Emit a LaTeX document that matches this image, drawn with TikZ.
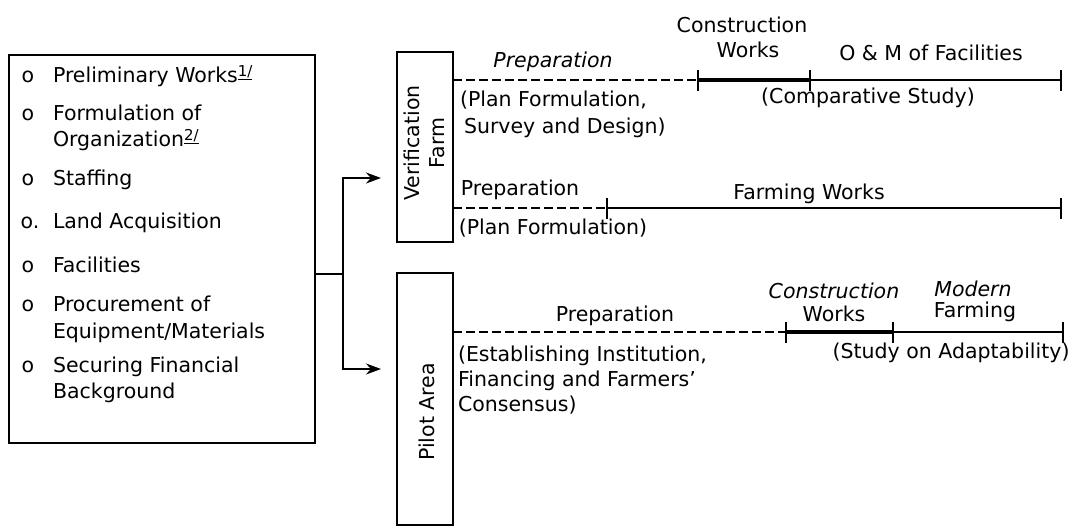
\documentclass[tikz,border=0pt]{standalone}
\usepackage{fontspec}
\setmainfont{DejaVu Sans}
\usetikzlibrary{arrows.meta}
\newcommand{\fnm}[1]{\raisebox{0.55ex}{\fontsize{15}{15}\selectfont\underline{#1}}}
\begin{document}
\begin{tikzpicture}[x=1pt,y=-1pt,
  every node/.style={font=\fontsize{20.5}{25}\selectfont, inner sep=0pt, outer sep=0pt},
  frame/.style={draw, line width=1.8pt},
  lnk/.style={line width=1.8pt, -{Stealth[length=15pt,width=11pt]}},
  plan/.style={line width=1.5pt, dash pattern=on 9pt off 4pt},
  work/.style={line width=4.5pt},
  run/.style={line width=1.5pt},
  tick/.style={line width=1.8pt},
  itm/.style={anchor=base west},
  bul/.style={anchor=base}]
\useasboundingbox (0,0) rectangle (1081,526);
% left box
\node[frame, minimum width=306pt, minimum height=388pt] (lbox) at (162,249) {};
\node[bul] (b1) at (28,83) {o};
\node[itm] (t1) at (53,83) {Preliminary Works\fnm{1/}};
\node[bul] (b2) at (28,121) {o};
\node[itm] (t2) at (53,121) {Formulation of};
\node[itm] (t2b) at (53,147) {Organization\fnm{2/}};
\node[bul] (b3) at (28,186) {o};
\node[itm] (t3) at (53,186) {Staffing};
\node[bul] (b4) at (30,229) {o.};
\node[itm] (t4) at (53,229) {Land Acquisition};
\node[bul] (b5) at (28,273) {o};
\node[itm] (t5) at (53,273) {Facilities};
\node[bul] (b6) at (28,312) {o};
\node[itm] (t6) at (53,312) {Procurement of};
\node[itm] (t6b) at (53,338) {Equipment/Materials};
\node[bul] (b7) at (28,372) {o};
\node[itm] (t7) at (53,372) {Securing Financial};
\node[itm] (t7b) at (53,398) {Background};
% side boxes
\node[frame, minimum width=56pt, minimum height=190pt] (vbox) at (425,147) {};
\node[rotate=90, align=center] (vlab) at (424,143) {Verification\\Farm};
\node[frame, minimum width=56pt, minimum height=252pt] (pbox) at (425,399) {};
\node[rotate=90] (plab) at (427,412) {Pilot Area};
% arrows
\coordinate (j) at (343,274);
\coordinate (va) at (381,178);
\coordinate (pa) at (381,369);
\draw[line width=1.8pt] (lbox.east |- j) -- (j);
\draw[lnk] (j) |- (va);
\draw[lnk] (j) |- (pa);
% row 1 : verification farm
\coordinate (r1a) at (453,80);
\coordinate (r1b) at (698,80);
\coordinate (r1c) at (810,80);
\coordinate (r1d) at (1061,80);
\draw[plan] (r1a) -- (r1b);
\draw[work] (r1b) -- (r1c);
\draw[run] (r1c) -- (r1d);
\foreach \p in {r1b,r1c,r1d} \draw[tick] ([yshift=-11pt]\p) -- ([yshift=10pt]\p);
\node[font=\fontsize{20.5}{25}\selectfont\itshape] (l1a) at (553,62) {Preparation};
\node (l1b) at (742,25) {Construction};
\node (l1c) at (748,50) {Works};
\node (l1d) at (931,53) {O \& M of Facilities};
\node[anchor=base west] (l1e) at (460,107) {(Plan Formulation,};
\node[anchor=base west] (l1e2) at (464,134) {Survey and Design)};
\node (l1f) at (868,98) {(Comparative Study)};
% row 2
\coordinate (r2a) at (453,208);
\coordinate (r2b) at (607,208);
\coordinate (r2d) at (1061,208);
\draw[plan] (r2a) -- (r2b);
\draw[run] (r2b) -- (r2d);
\foreach \p in {r2b,r2d} \draw[tick] ([yshift=-11pt]\p) -- ([yshift=10pt]\p);
\node (l2a) at (520,190) {Preparation};
\node (l2b) at (553,228) {(Plan Formulation)};
\node (l2c) at (809,194) {Farming Works};
% row 3 : pilot area
\coordinate (r3a) at (453,332);
\coordinate (r3b) at (786,332);
\coordinate (r3c) at (893,332);
\coordinate (r3d) at (1063,332);
\draw[plan] (r3a) -- (r3b);
\draw[work] (r3b) -- (r3c);
\draw[run] (r3c) -- (r3d);
\foreach \p in {r3b,r3c,r3d} \draw[tick] ([yshift=-11pt]\p) -- ([yshift=10pt]\p);
\node (l3a) at (615,316) {Preparation};
\node[font=\fontsize{20.5}{25}\selectfont\itshape] (l3b) at (834,291) {Construction};
\node (l3c) at (834,314) {Works};
\node[font=\fontsize{20.5}{25}\selectfont\itshape] (l3d) at (973,289) {Modern};
\node (l3e) at (975,312) {Farming};
\node (l3f) at (951,353) {(Study on Adaptability)};
\node[align=left, anchor=north west] (l3g) at (458,346) {(Establishing Institution,\\Financing and Farmers'\\Consensus)};
\end{tikzpicture}
\end{document}
